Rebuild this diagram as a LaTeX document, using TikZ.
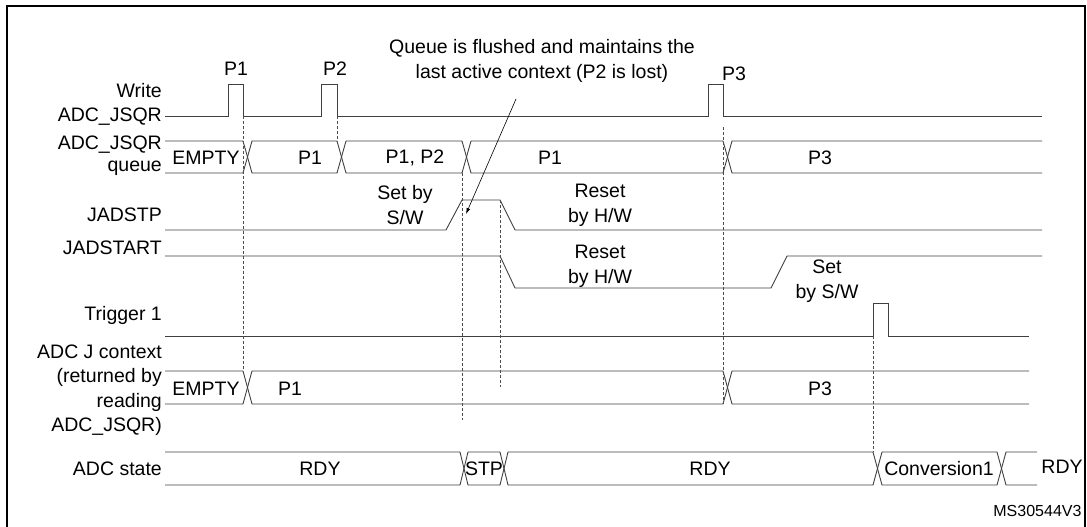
\documentclass[tikz,border=0pt]{standalone}
\usepackage{fontspec}
\setmainfont{Liberation Sans}
\usetikzlibrary{arrows.meta}
\begin{document}
\begin{tikzpicture}[x=1pt,y=-1pt,
  sig/.style={line width=0.9pt,draw=black!75},
  dsh/.style={densely dashed,line width=0.6pt,draw=black!70},
  lab/.style={anchor=east,font=\fontsize{19.5}{24.5}\selectfont,inner sep=1pt},
  txt/.style={font=\fontsize{19.5}{25}\selectfont,inner sep=1pt,align=center}]
\useasboundingbox (0,0) rectangle (1087,527);
\draw[line width=1.6pt] (7,527) -- (7,6) -- (1085,6) -- (1085,527);
% labels
\node[lab] (l1) at (163,91) {Write};
\node[lab] (l2) at (163,117) {ADC\_JSQR};
\node[lab] (l3) at (163,145) {ADC\_JSQR};
\node[lab] (l4) at (163,168) {queue};
\node[lab] (l5) at (163,215) {JADSTP};
\node[lab] (l6) at (163,248) {JADSTART};
\node[lab] (l7) at (163,315) {Trigger 1};
\node[lab,align=right,font=\fontsize{19.5}{24.5}\selectfont] (l8) at (163,390) {ADC J context\\(returned by\\reading\\ADC\_JSQR)};
\node[lab] (l9) at (163,469) {ADC state};
% Write
\draw[sig] (165,116)--(228,116)--(228,84)--(243,84)--(243,116)--(321,116)--(321,84)--(337,84)--(337,116)--(708,116)--(708,84)--(723,84)--(723,116)--(1042,116);
\node[txt] (p1) at (236,69) {P1};
\node[txt] (p2) at (335,69) {P2};
\node[txt] (p3) at (734,74) {P3};
% queue bus
\draw[sig] (165,141)--(243,141)--(252,173)--(337,173)--(346,141)--(462,141)--(471,173)--(723,173)--(732,141)--(1042,141);
\draw[sig] (165,173)--(243,173)--(252,141)--(337,141)--(346,173)--(462,173)--(471,141)--(723,141)--(732,173)--(1042,173);
\node[txt] (q1) at (206,158) {EMPTY};
\node[txt] (q2) at (310,158) {P1};
\node[txt] (q3) at (415,158) {P1, P2};
\node[txt] (q4) at (550,158) {P1};
\node[txt] (q5) at (820,158) {P3};
% JADSTP
\draw[sig] (165,230)--(446,230)--(462,200)--(500,200)--(515,230)--(1042,230);
\node[txt] (s1) at (405,205) {Set by\\S/W};
\node[txt] (s2) at (600,205) {Reset\\by H/W};
% JADSTART
\draw[sig] (165,256)--(500,256)--(515,288)--(771,288)--(787,256)--(1042,256);
\node[txt] (s3) at (600,266) {Reset\\by H/W};
\node[txt] (s4) at (827,281) {Set\\by S/W};
% Trigger
\draw[sig] (165,336)--(873,336)--(873,303)--(888,303)--(888,336)--(1029,336);
% context bus
\draw[sig] (165,371)--(243,371)--(252,404)--(723,404)--(732,371)--(1029,371);
\draw[sig] (165,404)--(243,404)--(252,371)--(723,371)--(732,404)--(1029,404);
\node[txt] (c1) at (206,389) {EMPTY};
\node[txt] (c2) at (290,389) {P1};
\node[txt] (c3) at (820,389) {P3};
% state bus
\draw[sig] (165,452)--(460,452)--(468,485)--(500,485)--(508,452)--(873,452)--(882,485)--(997,485)--(1006,452)--(1037,452);
\draw[sig] (165,485)--(460,485)--(468,452)--(500,452)--(508,485)--(873,485)--(882,452)--(997,452)--(1006,485)--(1037,485);
\node[txt] (a1) at (320,469) {RDY};
\node[txt] (a2) at (484,469) {STP};
\node[txt] (a3) at (710,469) {RDY};
\node[txt] (a4) at (939,469) {Conversion1};
\node[txt] (a5) at (1062,467) {RDY};
% dashed
\draw[dsh] (243,116)--(243,371);
\draw[dsh] (337,116)--(337,141);
\draw[dsh] (462,173)--(462,420);
\draw[dsh] (500,200)--(500,387);
\draw[dsh] (723,127)--(723,404);
\draw[dsh] (873,336)--(873,452);
% annotation
\node[txt] (note) at (542,61) {Queue is flushed and maintains the\\last active context (P2 is lost)};
\coordinate (ns) at (516,99);
\coordinate (ne) at (466,214);
\draw[line width=0.6pt,-{Latex[length=6pt,width=4pt]}] (ns)--(ne);
\node[font=\fontsize{16}{18}\selectfont,anchor=east] (ms) at (1085,511) {MS30544V3};
\end{tikzpicture}
\end{document}
